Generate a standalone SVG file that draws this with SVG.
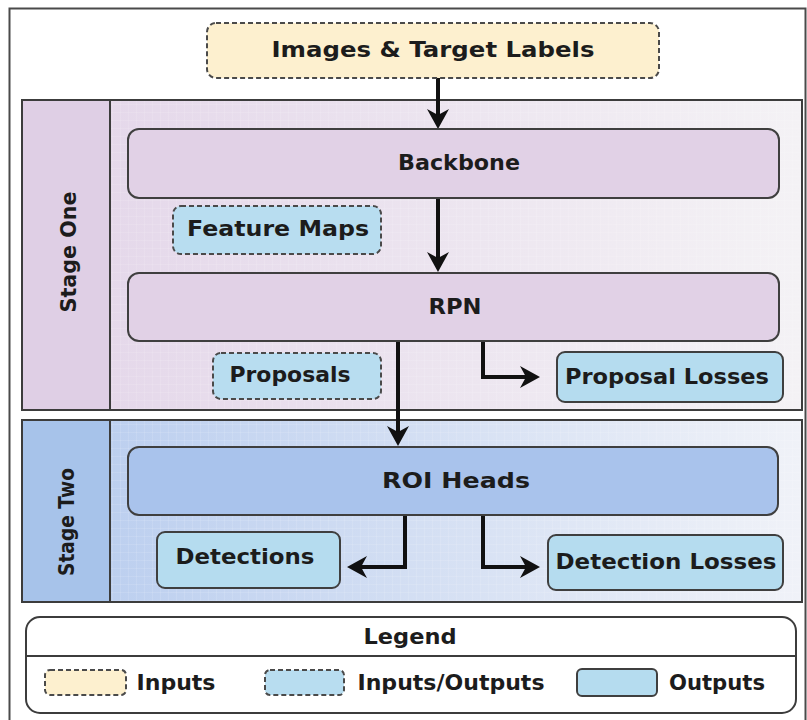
<svg xmlns="http://www.w3.org/2000/svg" width="807" height="720" viewBox="0 0 807 720">
  <defs>
    <style>
      text { font-family: "DejaVu Sans", "Liberation Sans", sans-serif; font-weight: bold; fill: #1c1c1c; font-size: 21px; dominant-baseline: central; text-anchor: middle; }
      .frame { fill: #ffffff; stroke: #4a4a4a; stroke-width: 2; }
      .panel { stroke: #3c3c3c; stroke-width: 2; }
      .box { stroke: #3f3f3f; stroke-width: 2; }
      .dash { stroke: #4a4a4a; stroke-width: 2; stroke-dasharray: 5 3; }
      .in { fill: #fdf0cf; }
      .io { fill: #b8ddf0; }
      .out { fill: #b5dcef; }
      .conn { fill: none; stroke: #111111; stroke-width: 4; marker-end: url(#arrow); }
    </style>
    <marker id="arrow" markerUnits="userSpaceOnUse" markerWidth="22" markerHeight="22" refX="9" refY="11" orient="auto">
      <path d="M0,0 L20,11 L0,22 L6,11 Z" fill="#111111"/>
    </marker>
    <linearGradient id="g1" x1="0" y1="0" x2="1" y2="0">
      <stop offset="0" stop-color="#e3d5e9"/>
      <stop offset="1" stop-color="#f4f2f5"/>
    </linearGradient>
    <linearGradient id="g2" x1="0" y1="0" x2="1" y2="0">
      <stop offset="0" stop-color="#b6cbee"/>
      <stop offset="1" stop-color="#f0f2f8"/>
    </linearGradient>
    <pattern id="grid" width="8" height="8" patternUnits="userSpaceOnUse">
      <path d="M8,0 L0,0 L0,8" fill="none" stroke="#ffffff" stroke-opacity="0.22" stroke-width="1"/>
    </pattern>
  </defs>

  <!-- outer frame -->
  <rect class="frame" x="9.5" y="8.5" width="796" height="720"/>

  <!-- Stage One panel -->
  <g id="stage-one">
    <rect x="22" y="100" width="780" height="310" fill="url(#g1)"/>
    <rect x="22" y="100" width="780" height="310" fill="url(#grid)"/>
    <rect x="22" y="100" width="88" height="310" fill="#dfcfe5"/>
    <rect class="panel" x="22" y="100" width="780" height="310" fill="none"/>
    <line class="panel" x1="110" y1="100" x2="110" y2="410"/>
    <text transform="translate(69,252) rotate(-90)" textLength="121" lengthAdjust="spacingAndGlyphs">Stage One</text>
  </g>

  <!-- Stage Two panel -->
  <g id="stage-two">
    <rect x="22" y="420" width="780" height="182" fill="url(#g2)"/>
    <rect x="22" y="420" width="780" height="182" fill="url(#grid)"/>
    <rect x="22" y="420" width="88" height="182" fill="#a7c3ea"/>
    <rect class="panel" x="22" y="420" width="780" height="182" fill="none"/>
    <line class="panel" x1="110" y1="420" x2="110" y2="602"/>
    <text transform="translate(67,522) rotate(-90)" textLength="108" lengthAdjust="spacingAndGlyphs">Stage Two</text>
  </g>

  <!-- connectors -->
  <g id="connectors">
    <path class="conn" d="M438,78 L438,118"/>
    <path class="conn" d="M438,198 L438,261"/>
    <path class="conn" d="M398,341 L398,435"/>
    <path class="conn" d="M483,341 L483,377 L529,377"/>
    <path class="conn" d="M405,515 L405,567 L358,567"/>
    <path class="conn" d="M483,515 L483,567 L529,567"/>
  </g>

  <g id="input">
    <rect class="dash in" x="207" y="23" width="452" height="55" rx="9"/>
    <text x="433" y="50" textLength="323" lengthAdjust="spacingAndGlyphs">Images &amp; Target Labels</text>
  </g>

  <g id="backbone">
    <rect class="box" x="128" y="129" width="651" height="69" rx="11" fill="#e1d1e6"/>
    <text x="459" y="163" textLength="122" lengthAdjust="spacingAndGlyphs">Backbone</text>
  </g>

  <g id="feature-maps">
    <rect class="dash io" x="173" y="206" width="208" height="48" rx="8"/>
    <text x="278" y="229" textLength="182" lengthAdjust="spacingAndGlyphs">Feature Maps</text>
  </g>

  <g id="rpn">
    <rect class="box" x="128" y="273" width="651" height="68" rx="11" fill="#e1d1e6"/>
    <text x="455" y="307" textLength="53" lengthAdjust="spacingAndGlyphs">RPN</text>
  </g>

  <g id="proposals">
    <rect class="dash io" x="213" y="353" width="168" height="46" rx="8"/>
    <text x="290" y="375" textLength="121" lengthAdjust="spacingAndGlyphs">Proposals</text>
  </g>

  <g id="proposal-losses">
    <rect class="box out" x="557" y="352" width="226" height="50" rx="8"/>
    <text x="667" y="377" textLength="204" lengthAdjust="spacingAndGlyphs">Proposal Losses</text>
  </g>

  <g id="roi-heads">
    <rect class="box" x="128" y="447" width="650" height="68" rx="11" fill="#a9c3ec"/>
    <text x="456" y="481" textLength="148" lengthAdjust="spacingAndGlyphs">ROI Heads</text>
  </g>

  <g id="detections">
    <rect class="box out" x="157" y="532" width="183" height="56" rx="8"/>
    <text x="245" y="557" textLength="139" lengthAdjust="spacingAndGlyphs">Detections</text>
  </g>

  <g id="detection-losses">
    <rect class="box out" x="548" y="535" width="235" height="55" rx="8"/>
    <text x="666" y="562" textLength="221" lengthAdjust="spacingAndGlyphs">Detection Losses</text>
  </g>

  <!-- legend -->
  <g id="legend">
    <rect x="26" y="617" width="770" height="96" rx="14" fill="#ffffff" stroke="#3c3c3c" stroke-width="2"/>
    <line x1="26" y1="656" x2="796" y2="656" stroke="#3c3c3c" stroke-width="2"/>
    <text x="410" y="637" textLength="93" lengthAdjust="spacingAndGlyphs">Legend</text>
    <rect class="dash in" x="45" y="670" width="81" height="25" rx="5"/>
    <text x="176" y="683" textLength="79" lengthAdjust="spacingAndGlyphs">Inputs</text>
    <rect class="dash io" x="265" y="670" width="79" height="25" rx="5"/>
    <text x="451" y="683" textLength="187" lengthAdjust="spacingAndGlyphs">Inputs/Outputs</text>
    <rect class="box out" x="577" y="669" width="80" height="27" rx="5"/>
    <text x="717" y="683" textLength="96" lengthAdjust="spacingAndGlyphs">Outputs</text>
  </g>
</svg>
